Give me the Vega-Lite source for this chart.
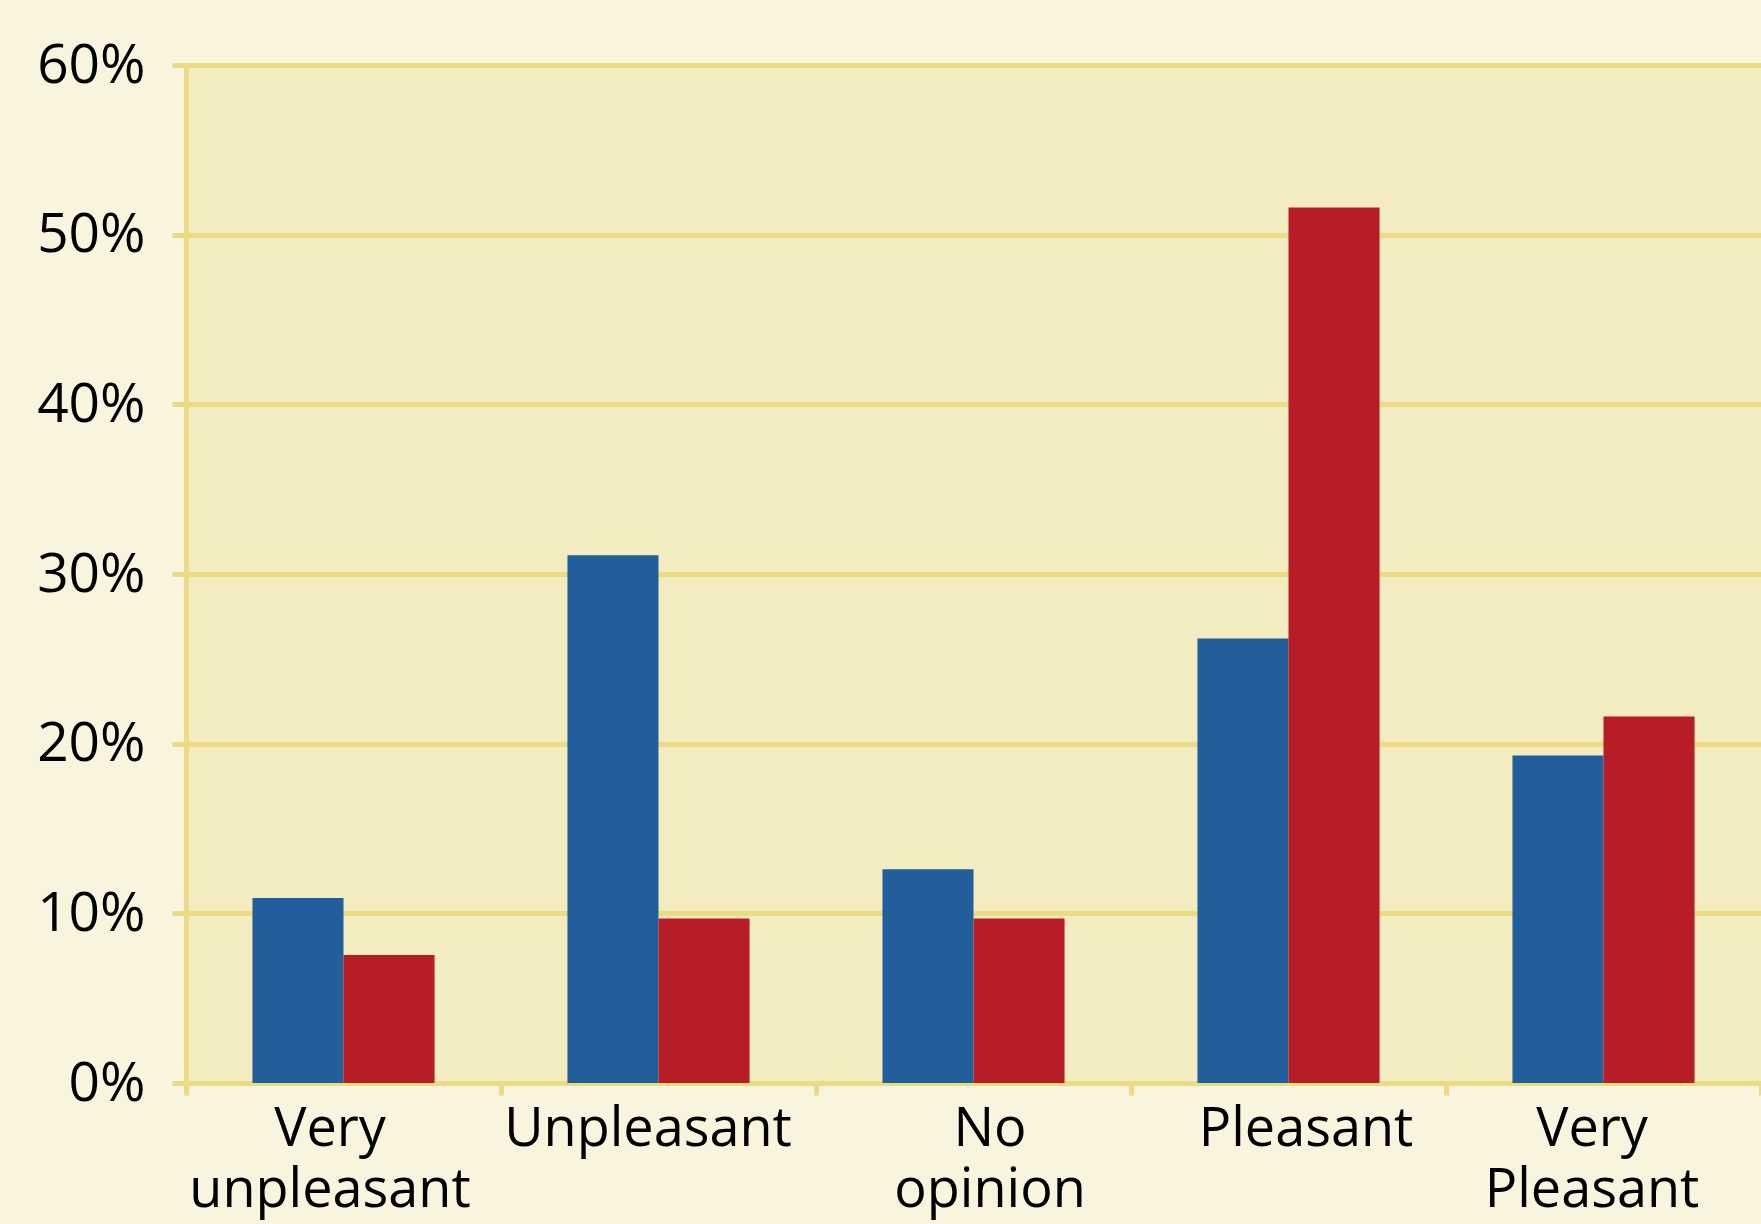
{
  "$schema": "https://vega.github.io/schema/vega-lite/v6.json",
  "width": 1575,
  "height": 1018,
  "autosize": {"type": "none"},
  "padding": {"left": 186, "top": 65, "right": 0, "bottom": 141},
  "background": "#F8F4DD",
  "data": {
    "values": [
      {"response": "Very unpleasant", "group": "Series 1", "pct": 10.9},
      {"response": "Very unpleasant", "group": "Series 2", "pct": 7.55},
      {"response": "Unpleasant", "group": "Series 1", "pct": 31.1},
      {"response": "Unpleasant", "group": "Series 2", "pct": 9.7},
      {"response": "No opinion", "group": "Series 1", "pct": 12.6},
      {"response": "No opinion", "group": "Series 2", "pct": 9.7},
      {"response": "Pleasant", "group": "Series 1", "pct": 26.2},
      {"response": "Pleasant", "group": "Series 2", "pct": 51.6},
      {"response": "Very Pleasant", "group": "Series 1", "pct": 19.3},
      {"response": "Very Pleasant", "group": "Series 2", "pct": 21.6}
    ]
  },
  "mark": {"type": "bar"},
  "encoding": {
    "x": {
      "field": "response",
      "type": "nominal",
      "sort": ["Very unpleasant", "Unpleasant", "No opinion", "Pleasant", "Very Pleasant"],
      "scale": {"paddingInner": 0, "paddingOuter": 0},
      "axis": {
        "title": null,
        "labelAngle": 0,
        "labelExpr": "split(datum.label, ' ')",
        "labelFont": "Open Sans",
        "labelFontSize": 54,
        "labelFontWeight": 500,
        "labelColor": "#000000",
        "labelLineHeight": 61,
        "labelPadding": 7,
        "labelBaseline": "top",
        "labelLimit": 0,
        "labelOverlap": false,
        "labelOffset": {
          "condition": [
            {"test": "datum.value == 'Very unpleasant'", "value": -14},
            {"test": "datum.value == 'Unpleasant'", "value": -11},
            {"test": "datum.value == 'No opinion'", "value": 16},
            {"test": "datum.value == 'Pleasant'", "value": 17}
          ],
          "value": -12
        },
        "tickBand": "extent",
        "ticks": true,
        "tickSize": 12,
        "tickWidth": 5,
        "tickColor": "#ECDB82",
        "domain": false,
        "grid": false
      }
    },
    "xOffset": {
      "field": "group",
      "type": "nominal",
      "sort": ["Series 1", "Series 2"],
      "scale": {"paddingInner": 0, "paddingOuter": 0.73}
    },
    "y": {
      "field": "pct",
      "type": "quantitative",
      "scale": {"domain": [0, 60], "nice": false},
      "axis": {
        "title": null,
        "values": [0, 10, 20, 30, 40, 50, 60],
        "labelExpr": "datum.value + '%'",
        "labelFont": "Open Sans",
        "labelFontSize": 55,
        "labelFontWeight": 500,
        "labelColor": "#000000",
        "labelPadding": 27,
        "tickSize": 14,
        "tickWidth": 5,
        "tickColor": "#ECDB82",
        "domain": true,
        "domainColor": "#ECDB82",
        "domainWidth": 5,
        "grid": true,
        "gridColor": "#ECDB82",
        "gridWidth": 5
      }
    },
    "color": {
      "field": "group",
      "type": "nominal",
      "scale": {"domain": ["Series 1", "Series 2"], "range": ["#215E9B", "#B71D27"]},
      "legend": null
    }
  },
  "config": {
    "view": {"fill": "#F3ECC0", "stroke": null}
  }
}
